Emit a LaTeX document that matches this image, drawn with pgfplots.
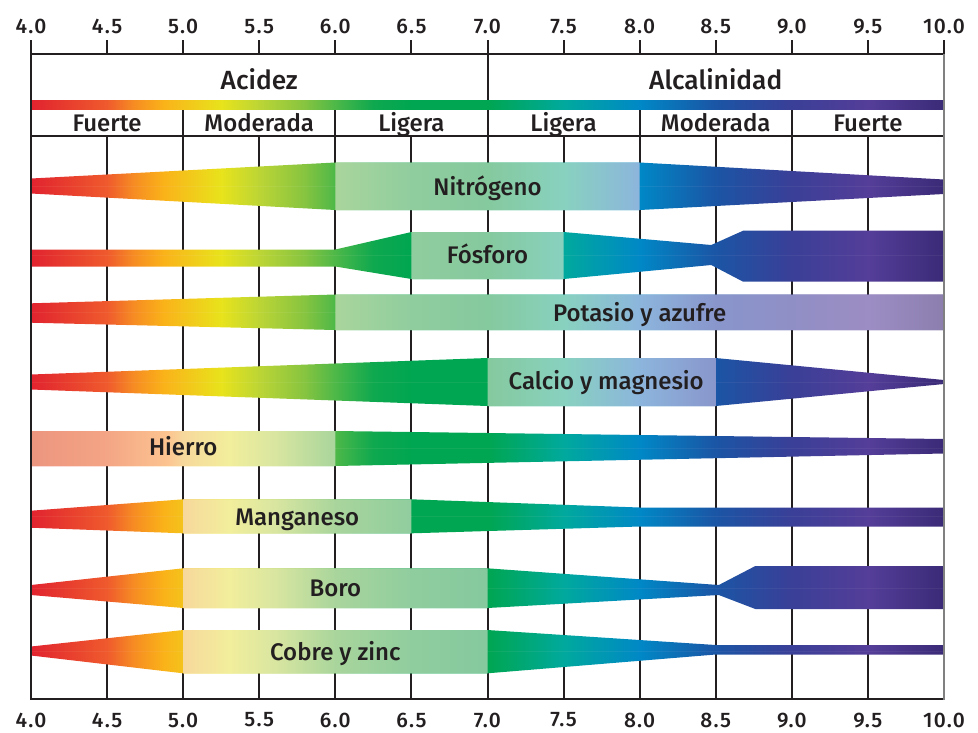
\documentclass[border=0pt]{standalone}
\usepackage{fontspec}
\IfFontExistsTF{Fira Sans Medium}{\setmainfont{Fira Sans}[UprightFont=* Medium]}{\setmainfont{Fira Sans}}
\usepackage{pgfplots}
\pgfplotsset{compat=1.18}
\usetikzlibrary{calc}

\definecolor{ink}{HTML}{231F20}
\definecolor{edge}{HTML}{808080}
% pH colour scale (dark bands)
\definecolor{d400}{HTML}{E1232F}
\definecolor{d450}{HTML}{EF5A2D}
\definecolor{d467}{HTML}{F68B23}
\definecolor{d487}{HTML}{FAB219}
\definecolor{d500}{HTML}{F4C31B}
\definecolor{d525}{HTML}{E8E31B}
\definecolor{d550}{HTML}{BCD535}
\definecolor{d580}{HTML}{86C440}
\definecolor{d600}{HTML}{4DB848}
\definecolor{d625}{HTML}{0EA84F}
\definecolor{d650}{HTML}{00A651}
\definecolor{d700}{HTML}{00A651}
\definecolor{d750}{HTML}{00A99D}
\definecolor{d800}{HTML}{0088C6}
\definecolor{d850}{HTML}{1B55A5}
\definecolor{d900}{HTML}{3A3F97}
\definecolor{d950}{HTML}{543E99}
\definecolor{d1000}{HTML}{3A2A76}
% light scale (good availability)
\definecolor{l400}{HTML}{EC957F}
\definecolor{l450}{HTML}{F4A585}
\definecolor{l490}{HTML}{FCC490}
\definecolor{l500}{HTML}{F7D89C}
\definecolor{l530}{HTML}{F2EE9C}
\definecolor{l560}{HTML}{D9E6A0}
\definecolor{l600}{HTML}{A9D59C}
\definecolor{l650}{HTML}{90CD9E}
\definecolor{l700}{HTML}{85C99E}
\definecolor{l750}{HTML}{88D1BF}
\definecolor{l800}{HTML}{8CB5DC}
\definecolor{l850}{HTML}{8996CC}
\definecolor{l900}{HTML}{908FC5}
\definecolor{l950}{HTML}{9C8DC4}
\definecolor{l1000}{HTML}{8C7FAE}

% stops: 25bp = pH 4, 75bp = pH 10
\pgfdeclarehorizontalshading{phdark}{100bp}{%
  color(0bp)=(d400); color(25bp)=(d400); color(29.1667bp)=(d450);
  color(30.5833bp)=(d467); color(32.25bp)=(d487); color(33.3333bp)=(d500);
  color(35.4167bp)=(d525); color(37.5bp)=(d550); color(40bp)=(d580);
  color(41.6667bp)=(d600); color(43.75bp)=(d625); color(45.8333bp)=(d650);
  color(50bp)=(d700); color(54.1667bp)=(d750); color(58.3333bp)=(d800);
  color(62.5bp)=(d850); color(66.6667bp)=(d900); color(70.8333bp)=(d950);
  color(75bp)=(d1000); color(100bp)=(d1000)}
\pgfdeclarehorizontalshading{phlight}{100bp}{%
  color(0bp)=(l400); color(25bp)=(l400); color(29.1667bp)=(l450);
  color(32.5bp)=(l490); color(33.3333bp)=(l500); color(35.8333bp)=(l530);
  color(38.3333bp)=(l560); color(41.6667bp)=(l600); color(45.8333bp)=(l650);
  color(50bp)=(l700); color(54.1667bp)=(l750); color(58.3333bp)=(l800);
  color(62.5bp)=(l850); color(66.6667bp)=(l900); color(70.8333bp)=(l950);
  color(75bp)=(l1000); color(100bp)=(l1000)}

\newcommand\tickfont{\fontsize{21}{24}\selectfont\addfontfeatures{LetterSpace=6}}
\newcommand\labfont{\fontsize{24}{28}\selectfont}
\newcommand\headfont{\fontsize{26.3}{30}\selectfont}

\pgfplotsset{
  phbase/.style={scale only axis, width=913pt, height=645pt,
    xmin=4, xmax=10, ymin=54, ymax=699, y dir=reverse, clip=false,
    xtick={4,4.5,...,10}, ytick=\empty,
    axis line style={draw=none},
    xticklabel={\tickfont\pgfmathprintnumber[fixed,fixed zerofill,precision=1,assume math mode=true]{\tick}},
    xticklabel style={text=ink, inner sep=0pt}},
  dark/.style={draw=none, shade, shading=phdark},
  light/.style={draw=none, shade, shading=phlight},
}

\begin{document}
\begin{tikzpicture}
\begin{axis}[phbase, name=ax, major tick length=0pt,
    xticklabel style={yshift=-13.5pt}]
  % grid lines
  \pgfplotsinvokeforeach{4.5,5,5.5,6,6.5,7,7.5,8,8.5,9,9.5}{
    \draw[ink, line width=2pt] (axis cs:#1,136) -- (axis cs:#1,699);
  }
  % header frame
  \draw[ink, line width=2pt] (axis cs:4,136) -- (axis cs:10,136);
  \draw[ink, line width=2pt] (axis cs:7,54) -- (axis cs:7,136);
  \pgfplotsinvokeforeach{5,6,8,9}{
    \draw[ink, line width=2pt] (axis cs:#1,109) -- (axis cs:#1,136);
  }
  % pH scale bar
  \addplot[dark] coordinates {(4,100) (10,100) (10,109.5) (4,109.5) (4,100)};

  % Nitrogeno
  \addplot[dark] coordinates {(4,178.5) (6,162.5) (8,162.5) (10,179.5) (10,194) (8,210) (6,210) (4,193.5) (4,178.5)};
  \addplot[light] coordinates {(4,186) (6,186) (6,162.5) (8,162.5) (8,186) (10,186) (8,186) (8,210) (6,210) (6,186) (4,186)};
  % Fosforo
  \addplot[dark] coordinates {(4,249.5) (6,249.5) (6.5,232) (7.5,232) (8.47,245) (8.68,230.7) (10,230.7) (10,281.7) (8.68,281.7) (8.47,265) (7.5,279) (6.5,279) (6,266.5) (4,266.5) (4,249.5)};
  \addplot[light] coordinates {(4,255.5) (6.5,255.5) (6.5,232) (7.5,232) (7.5,255.5) (10,255.5) (7.5,255.5) (7.5,279) (6.5,279) (6.5,255.5) (4,255.5)};
  % Potasio y azufre
  \addplot[dark] coordinates {(4,303.3) (6,294.5) (10,294.5) (10,330) (6,330) (4,322.7) (4,303.3)};
  \addplot[light] coordinates {(4,312) (6,312) (6,294.5) (10,294.5) (10,330) (6,330) (6,312) (4,312)};
  % Calcio y magnesio
  \addplot[dark] coordinates {(4,374.5) (7,358) (8.5,358) (10,380) (10,384) (8.5,406) (7,406) (4,389.5) (4,374.5)};
  \addplot[light] coordinates {(4,382) (7,382) (7,358) (8.5,358) (8.5,382) (10,382) (8.5,382) (8.5,406) (7,406) (7,382) (4,382)};
  % Hierro
  \addplot[dark] coordinates {(4,431) (6,431) (10,439) (10,453.5) (6,466) (4,466) (4,431)};
  \addplot[light] coordinates {(4,431) (6,431) (6,448) (10,448) (6,448) (6,466) (4,466) (4,431)};
  % Manganeso
  \addplot[dark] coordinates {(4,510.7) (5,499.3) (6.5,499.3) (8,507.5) (10,507.5) (10,526.5) (8,526.5) (6.5,533.3) (5,533.3) (4,527.7) (4,510.7)};
  \addplot[light] coordinates {(4,516.5) (5,516.5) (5,499.3) (6.5,499.3) (6.5,516.5) (10,516.5) (6.5,516.5) (6.5,533.3) (5,533.3) (5,516.5) (4,516.5)};
  % Boro
  \addplot[dark] coordinates {(4,585) (5,568.3) (7,568.3) (8.52,585) (8.76,566) (10,566) (10,609) (8.76,609) (8.52,595) (7,608) (5,608) (4,595) (4,585)};
  \addplot[light] coordinates {(4,588) (5,588) (5,568.3) (7,568.3) (7,588) (10,588) (7,588) (7,608) (5,608) (5,588) (4,588)};
  % Cobre y zinc
  \addplot[dark] coordinates {(4,646.5) (5,630) (7,630) (8.5,645) (10,645) (10,654.5) (8.5,654.5) (7,673.3) (5,673.3) (4,655.5) (4,646.5)};
  \addplot[light] coordinates {(4,651.5) (5,651.5) (5,630) (7,630) (7,651.5) (10,651.5) (7,651.5) (7,673.3) (5,673.3) (5,651.5) (4,651.5)};

  % frame
  \draw[ink, line width=2pt] (axis cs:4,54) -- (axis cs:10,54);
  \draw[ink, line width=2pt] (axis cs:4,699) -- (axis cs:10,699);
  \draw[ink, line width=2pt] (axis cs:4,40) -- (axis cs:4,700);
  \draw[edge, line width=1.6pt] (axis cs:10,54) -- (axis cs:10,700);

  % texts
  \begin{scope}[every node/.style={text=ink, anchor=base, inner sep=0pt}]
    \node[font=\headfont] at (axis cs:5.5,89.3) {Acidez};
    \node[font=\headfont] at (axis cs:8.5,89.3) {Alcalinidad};
    \node[font=\labfont] at (axis cs:4.5,131) {Fuerte};
    \node[font=\labfont] at (axis cs:5.5,131) {Moderada};
    \node[font=\labfont] at (axis cs:6.5,131) {Ligera};
    \node[font=\labfont] at (axis cs:7.5,131) {Ligera};
    \node[font=\labfont] at (axis cs:8.5,131) {Moderada};
    \node[font=\labfont] at (axis cs:9.5,131) {Fuerte};
    \node[font=\labfont] at (axis cs:7,195) {Nitrógeno};
    \node[font=\labfont] at (axis cs:7,263.5) {Fósforo};
    \node[font=\labfont] at (axis cs:8,321) {Potasio y azufre};
    \node[font=\labfont] at (axis cs:7.78,389.5) {Calcio y magnesio};
    \node[font=\labfont] at (axis cs:5,455) {Hierro};
    \node[font=\labfont] at (axis cs:5.75,525) {Manganeso};
    \node[font=\labfont] at (axis cs:6,596.5) {Boro};
    \node[font=\labfont] at (axis cs:6,660.5) {Cobre y zinc};
  \end{scope}
\end{axis}
% top ticks and labels
\begin{axis}[phbase, xtick pos=upper, xticklabel pos=upper,
    tick align=outside, major tick length=14pt,
    xticklabel style={yshift=6pt},
    xtick style={ink, line width=2pt}]
\end{axis}
\pgfresetboundingbox
\path[use as bounding box] ($(ax.south west)+(-31pt,-33pt)$) rectangle ($(ax.north east)+(34pt,54pt)$);
\end{tikzpicture}
\end{document}
